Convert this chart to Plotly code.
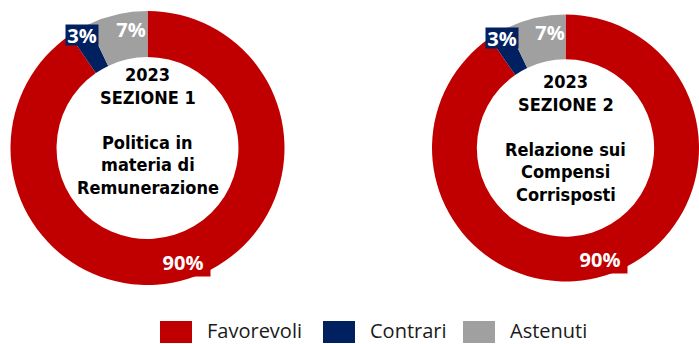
import math
import plotly.graph_objects as go

# ---- data ----
categories = ["Favorevoli", "Contrari", "Astenuti"]
sezione1_values = [90.4, 2.5, 7.1]
sezione2_values = [90.4, 2.5, 7.1]
center_titles = [
    ["2023", "SEZIONE 1", "", "Politica in", "materia di", "Remunerazione"],
    ["2023", "SEZIONE 2", "", "Relazione sui", "Compensi", "Corrisposti"],
]
colors = ["#C00000", "#002060", "#A0A0A0"]

# ---- layout constants (pixels) ----
W, H = 699, 344
HOLE = 0.664
FONT = "Open Sans"
TITLE_FONT = "DejaVu Sans Condensed"

# pie domains in pixels: (x0, x1, ytop, ybottom)
pie_boxes = [(10.5, 284.5, 11, 285), (432, 699, 11, 285)]
title_top = [74.5, 81.5]
LINE = 22.5
label_radius = [0.87, 0.95, 0.88]
label_frac = [0.5, 0.5, 0.7]
label_box = [(54, 28), (32, 20), (30, 22)]


def px2paper(x, y):
    return x / W, 1 - y / H


fig = go.Figure()
annotations = []
for k, (vals, box, title) in enumerate(zip([sezione1_values, sezione2_values], pie_boxes, center_titles)):
    x0, x1, yt, yb = box
    fig.add_trace(go.Pie(
        labels=categories, values=vals, hole=HOLE, sort=False,
        direction="clockwise", rotation=0,
        marker=dict(colors=colors, line=dict(width=0)),
        textinfo="none", hoverinfo="label+percent", showlegend=False,
        domain=dict(x=[x0 / W, x1 / W], y=[1 - yb / H, 1 - yt / H]),
    ))
    cx = (x0 + x1) / 2
    cy = (yt + yb) / 2
    R = min(x1 - x0, yb - yt) / 2
    total = sum(vals)
    cum = 0.0
    for i, v in enumerate(vals):
        mid = (cum + v * label_frac[i]) / total * 2 * math.pi
        cum += v
        r = label_radius[i] * R
        lx = cx + r * math.sin(mid)
        ly = cy - r * math.cos(mid)
        px, py = px2paper(lx, ly)
        pct = int(v / total * 100 + 0.5)
        annotations.append(dict(
            x=px, y=py, xref="paper", yref="paper", showarrow=False,
            text=f"{pct}%", font=dict(family=FONT, size=20, color="white", weight=700),
            bgcolor=colors[i], width=label_box[i][0], height=label_box[i][1],
            borderpad=0, xanchor="center", yanchor="middle",
        ))
    for j, line in enumerate(title):
        if not line:
            continue
        tx, ty = px2paper(cx, title_top[k] + j * LINE)
        annotations.append(dict(
            x=tx, y=ty, xref="paper", yref="paper", showarrow=False,
            text=line, font=dict(family=TITLE_FONT, size=18, color="black", weight=700),
            align="center", xanchor="center", yanchor="middle",
        ))

# ---- custom legend ----
legend_x = [160, 323, 463]
shapes = []
for i, name in enumerate(categories):
    sx = legend_x[i]
    shapes.append(dict(type="rect", xref="paper", yref="paper",
                       x0=sx / W, x1=(sx + 32) / W, y0=1 - 343 / H, y1=1 - 321 / H,
                       fillcolor=colors[i], line=dict(width=0)))
    ax, ay = px2paper(sx + 45, 330)
    annotations.append(dict(x=ax, y=ay, xref="paper", yref="paper", showarrow=False,
                            text=name, font=dict(family=FONT, size=20, color="#1a1a1a"),
                            xanchor="left", yanchor="middle"))

fig.update_layout(
    width=W, height=H, margin=dict(l=0, r=0, t=0, b=0),
    paper_bgcolor="white", plot_bgcolor="white",
    annotations=annotations, shapes=shapes,
)
fig.write_html("out.html")
